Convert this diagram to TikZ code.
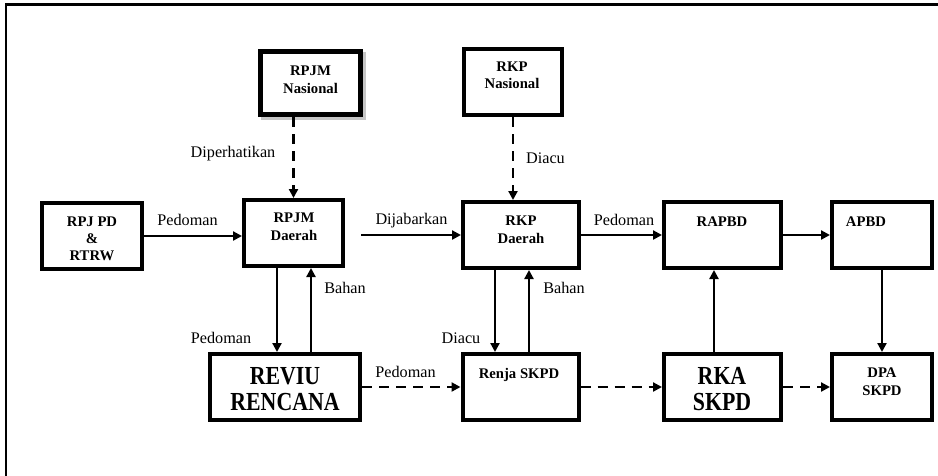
\documentclass[tikz,border=0pt]{standalone}
\usepackage{fontspec}
\setmainfont{Liberation Serif}
\usepackage{graphicx}
\usetikzlibrary{arrows.meta}
\tikzset{
  box/.style={draw, rectangle, line width=4pt, inner sep=0pt, fill=white},
  bt/.style={font=\bfseries\fontsize{14.7}{17}\selectfont, anchor=base, inner sep=0pt},
  bigt/.style={font=\bfseries\fontsize{26}{30}\selectfont, anchor=base, inner sep=0pt},
  lbl/.style={font=\fontsize{16.2}{19}\selectfont, anchor=base, inner sep=0pt},
  arr/.style={line width=2.2pt, -{Triangle[length=9pt,width=9pt]}},
  darr/.style={arr, dash pattern=on 10pt off 7pt},
  shadowc/.style={fill=gray!45}
}
\begin{document}
\begin{tikzpicture}[x=1pt,y=-1pt]
\useasboundingbox (0,0) rectangle (938,475);
% frame
\draw[line width=2.5pt] (6.2,480) -- (6.2,4.7) -- (945,4.7);

% boxes
\node[box, line width=5pt, minimum width=100pt, minimum height=63pt] (rpjmn) at (310.5,83) {};
\fill[shadowc] ([shift={(0,3)}]rpjmn.north east) rectangle ([shift={(3,3)}]rpjmn.south east);
\fill[shadowc] ([shift={(3,0)}]rpjmn.south west) rectangle ([shift={(3,3)}]rpjmn.south east);
\node[box, minimum width=98pt, minimum height=66pt] (rkpn) at (513,82) {};
\node[box, minimum width=100pt, minimum height=66pt] (rpjpd) at (92,236) {};
\node[box, minimum width=99pt, minimum height=66pt] (rpjmd) at (293.5,233) {};
\node[box, minimum width=116pt, minimum height=66pt] (rkpd) at (521,235) {};
\node[box, minimum width=117pt, minimum height=66pt] (rapbd) at (722.5,235) {};
\node[box, minimum width=100pt, minimum height=66pt] (apbd) at (882,235) {};
\node[box, minimum width=150pt, minimum height=66pt] (reviu) at (285,387) {};
\node[box, minimum width=116pt, minimum height=66pt] (renja) at (520.5,387) {};
\node[box, minimum width=117pt, minimum height=66pt] (rka) at (722.5,387) {};
\node[box, minimum width=100pt, minimum height=66pt] (dpa) at (882,387) {};

% box texts
\node[bt] (t1a) at (310.5,75) {RPJM};
\node[bt] (t1b) at (310.5,93) {Nasional};
\node[bt] (t2a) at (512,71) {RKP};
\node[bt] (t2b) at (512,88.5) {Nasional};
\node[bt] (t3a) at (92,226) {RPJ PD};
\node[bt] (t3b) at (92,243) {\&};
\node[bt] (t3c) at (92,260) {RTRW};
\node[bt] (t4a) at (294,222) {RPJM};
\node[bt] (t4b) at (294,240.5) {Daerah};
\node[bt] (t5a) at (521,225) {RKP};
\node[bt] (t5b) at (521,243) {Daerah};
\node[bt] (t6) at (722,226.5) {RAPBD};
\node[bt] (t7) at (866,226.5) {APBD};
\node[bt] (t8) at (519,378) {Renja SKPD};
\node[bt] (t9a) at (882,377) {DPA};
\node[bt] (t9b) at (882,395) {SKPD};
\node[bigt] (t10a) at (285,384) {\scalebox{0.84}[1]{REVIU}};
\node[bigt] (t10b) at (285,410) {\scalebox{0.84}[1]{RENCANA}};
\node[bigt] (t11a) at (722,384) {\scalebox{0.84}[1]{RKA}};
\node[bigt] (t11b) at (722,410) {\scalebox{0.84}[1]{SKPD}};

% helper x positions
\coordinate (xa) at (277,0);
\coordinate (xb) at (311,0);
\coordinate (xc) at (495,0);
\coordinate (xd) at (529,0);
\coordinate (xe) at (714,0);
\coordinate (xf) at (361,0);

% connectors
\draw[arr] (rpjpd.east) -- (rpjpd.east -| rpjmd.west);
\draw[arr] (xf |- rkpd.west) -- (rkpd.west);
\draw[arr] (rkpd.east) -- (rkpd.east -| rapbd.west);
\draw[arr] (rapbd.east) -- (apbd.west);
\draw[darr] (rpjmn.south -| rpjmd.north) -- (rpjmd.north);
\draw[darr] (rkpn.south) -- (rkpn.south |- rkpd.north);
\draw[arr] (xa |- rpjmd.south) -- (xa |- reviu.north);
\draw[arr] (xb |- reviu.north) -- (xb |- rpjmd.south);
\draw[arr] (xc |- rkpd.south) -- (xc |- renja.north);
\draw[arr] (xd |- renja.north) -- (xd |- rkpd.south);
\draw[darr] (reviu.east) -- (renja.west);
\draw[darr] (renja.east) -- (rka.west);
\draw[darr] (rka.east) -- (dpa.west);
\draw[arr] (xe |- rka.north) -- (xe |- rapbd.south);
\draw[arr] (apbd.south) -- (dpa.north);

% labels
\node[lbl] (l1) at (187.5,225) {Pedoman};
\node[lbl] (l2) at (411.5,224.5) {Dijabarkan};
\node[lbl] (l3) at (624,225) {Pedoman};
\node[lbl] (l4) at (233,157.5) {Diperhatikan};
\node[lbl] (l5) at (545.5,163) {Diacu};
\node[lbl] (l6) at (221,343) {Pedoman};
\node[lbl] (l7) at (345,293) {Bahan};
\node[lbl] (l8) at (461,343) {Diacu};
\node[lbl] (l9) at (564,293) {Bahan};
\node[lbl] (l10) at (405.5,377) {Pedoman};
\end{tikzpicture}
\end{document}
